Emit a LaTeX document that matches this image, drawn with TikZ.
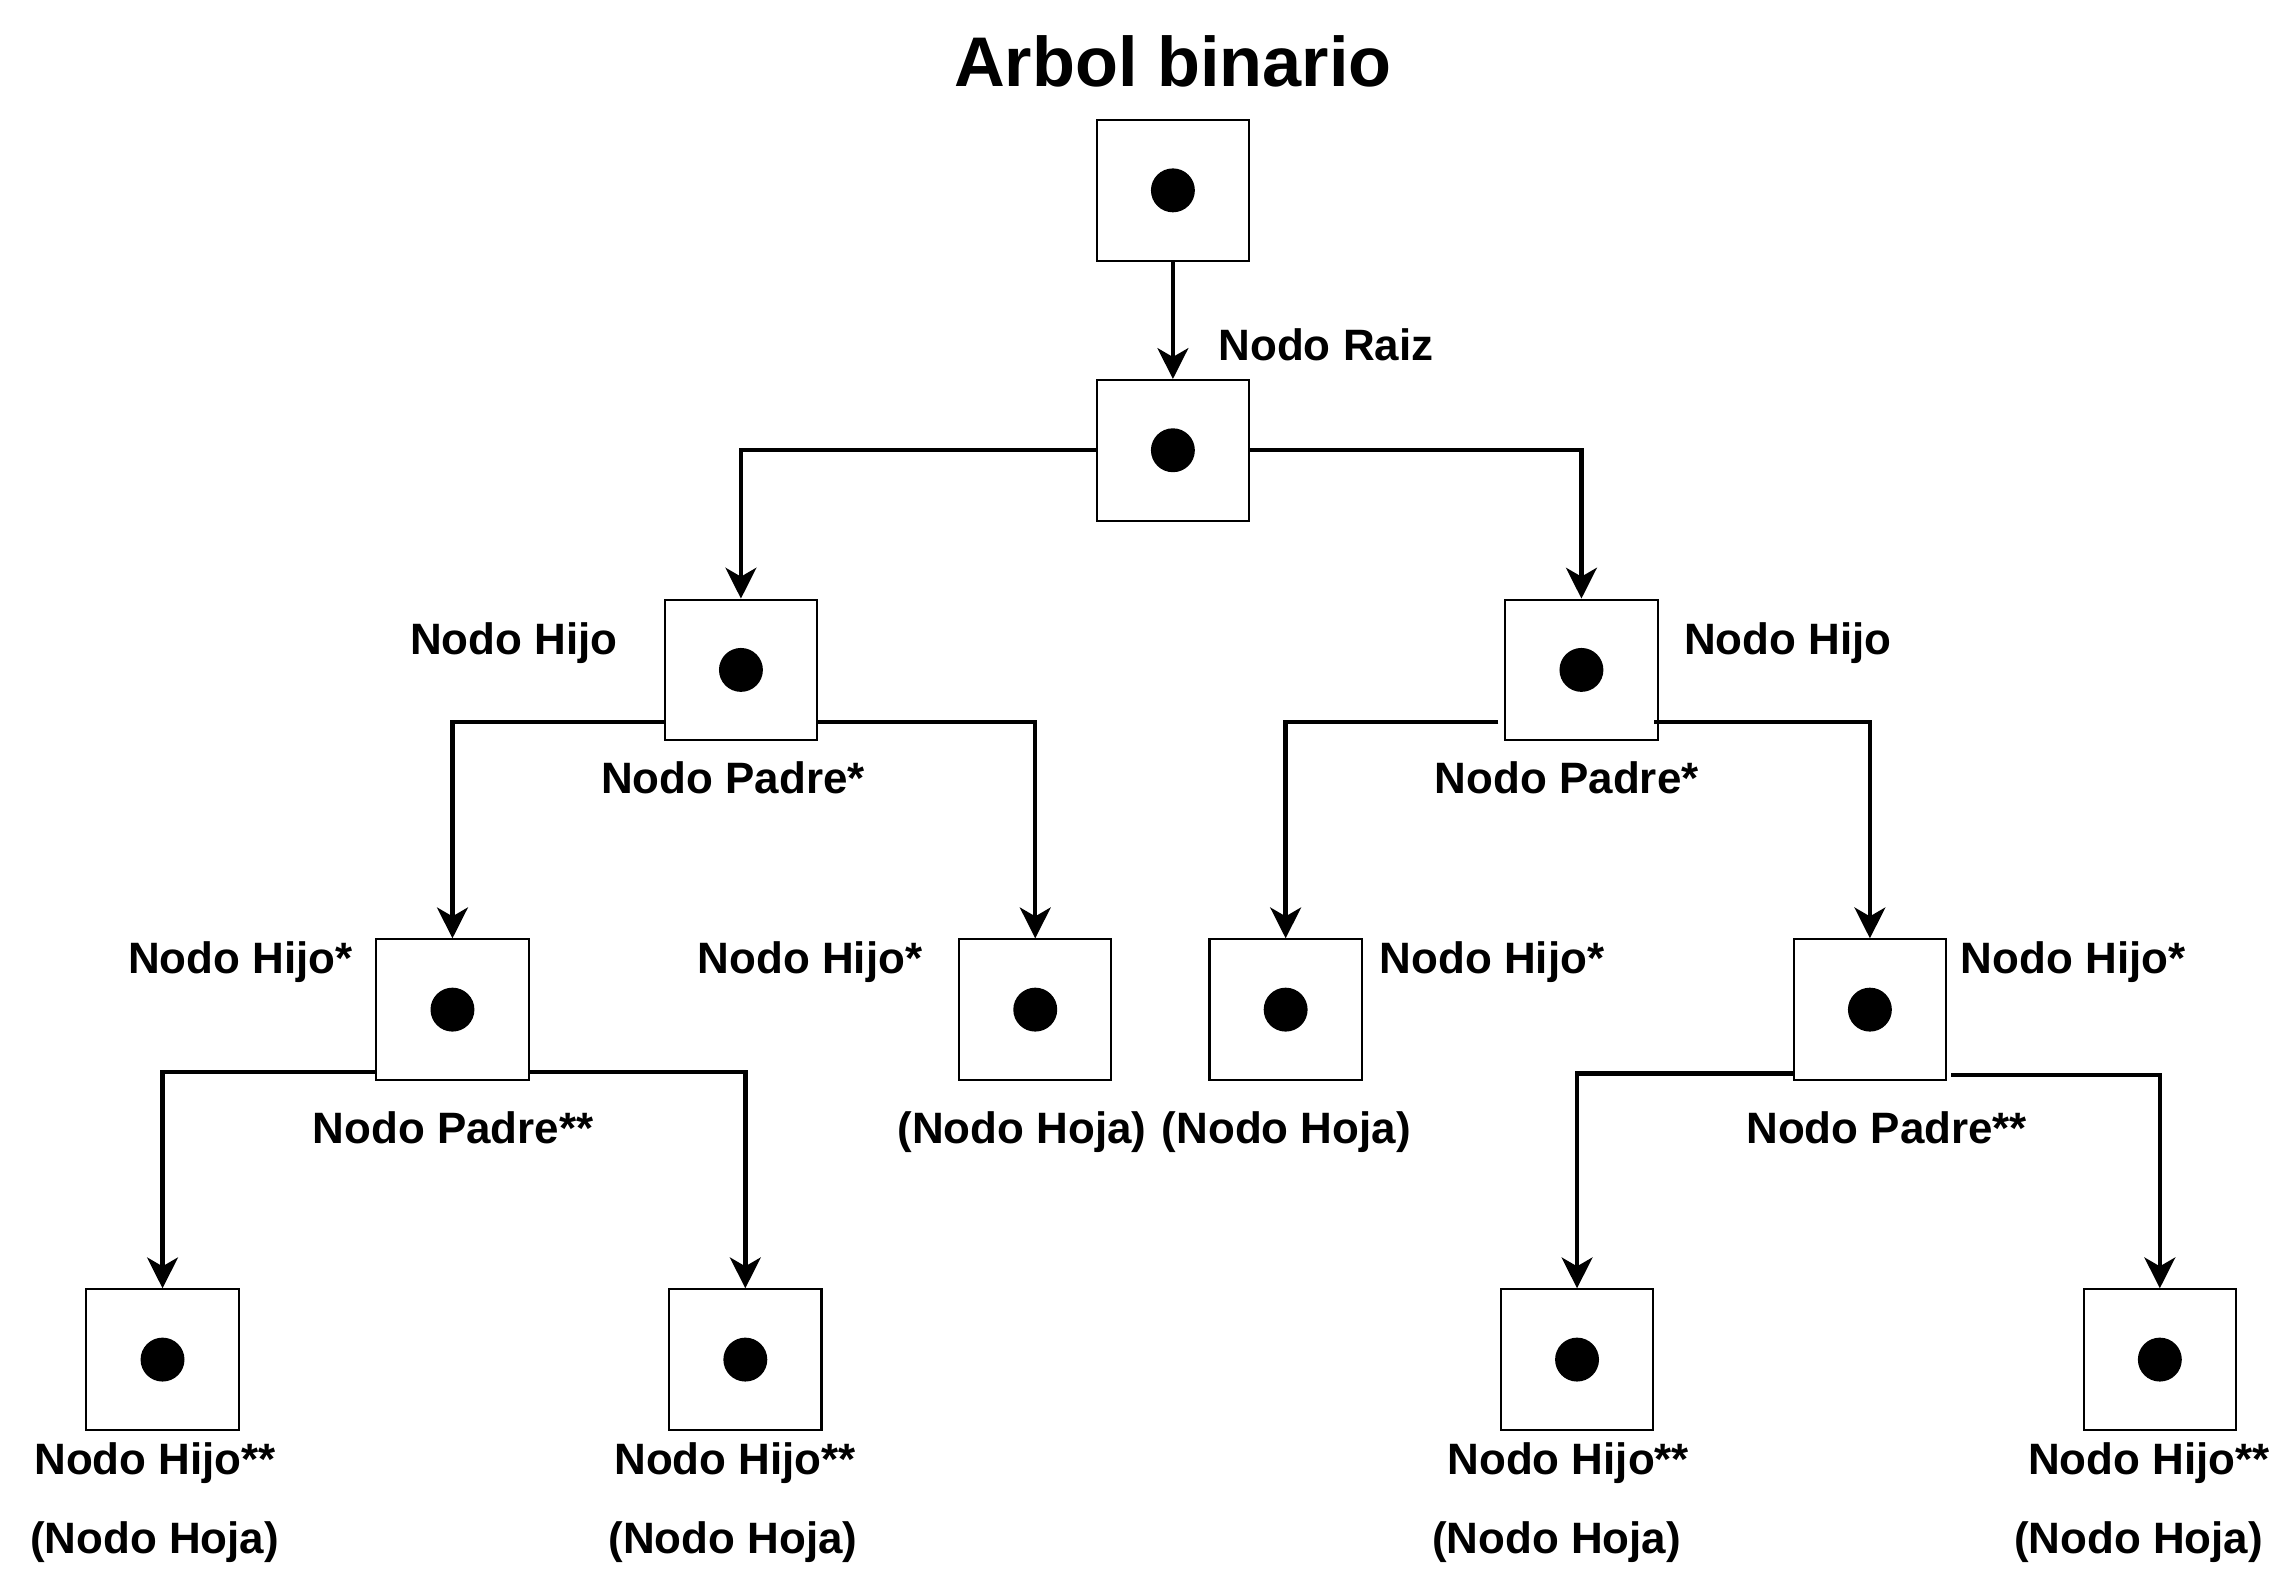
\documentclass[tikz,border=0pt]{standalone}
\usepackage{fontspec}
\setmainfont{Liberation Sans}
\usetikzlibrary{arrows.meta}

\begin{document}
\begin{tikzpicture}[
    x=1pt, y=-1pt,
    caja/.style={draw, line width=1.4pt, minimum width=104pt, minimum height=96pt, inner sep=0pt,
      path picture={\fill (path picture bounding box.center) circle (15pt);}},
    etiq/.style={font=\fontsize{30}{36}\selectfont\bfseries, inner sep=0pt},
    titulo/.style={font=\fontsize{48}{58}\selectfont\bfseries, inner sep=0pt},
    flecha/.style={-{Stealth[length=21pt,width=21pt,inset=6pt]}, line width=3pt},
  ]
    \useasboundingbox (0,0) rectangle (1568,1083);

    \node[titulo, anchor=base] (tit) at (801,59) {Arbol binario};

    % cajas
    \node[caja] (inicio) at (801,130) {};
    \node[caja] (raiz) at (801,307.5) {};
    \node[caja] (hijoI) at (506,457.5) {};
    \node[caja] (hijoD) at (1080,457.5) {};
    \node[caja] (hijoII) at (309,689.5) {};
    \node[caja] (hijoID) at (707,689.5) {};
    \node[caja] (hijoDI) at (878,689.5) {};
    \node[caja] (hijoDD) at (1277,689.5) {};
    \node[caja] (hojaA) at (111,928.5) {};
    \node[caja] (hojaB) at (509,928.5) {};
    \node[caja] (hojaC) at (1077,928.5) {};
    \node[caja] (hojaD) at (1475,928.5) {};

    % etiquetas
    \node[etiq, anchor=base west] (lraiz) at (832,246) {Nodo Raiz};
    \node[etiq, anchor=base east] (lhijoI) at (422,447) {Nodo Hijo};
    \node[etiq, anchor=base west] (lhijoD) at (1150,447) {Nodo Hijo};
    \node[etiq, anchor=base] (lpadreI) at (500.5,542) {Nodo Padre*};
    \node[etiq, anchor=base] (lpadreD) at (1070,542) {Nodo Padre*};
    \node[etiq, anchor=base east] (lhijoII) at (241,665) {Nodo Hijo*};
    \node[etiq, anchor=base east] (lhijoID) at (630,665) {Nodo Hijo*};
    \node[etiq, anchor=base west] (lhijoDI) at (942,665) {Nodo Hijo*};
    \node[etiq, anchor=base west] (lhijoDD) at (1339,665) {Nodo Hijo*};
    \node[etiq, anchor=base] (lpadreII) at (309.5,781) {Nodo Padre**};
    \node[etiq, anchor=base] (lhojaID) at (698,781) {(Nodo Hoja)};
    \node[etiq, anchor=base] (lhojaDI) at (878.5,781) {(Nodo Hoja)};
    \node[etiq, anchor=base] (lpadreDD) at (1288.5,781) {Nodo Padre**};
    \node[etiq, anchor=base] (lhijoA) at (106,1007) {Nodo Hijo**};
    \node[etiq, anchor=base] (lhijoB) at (502,1007) {Nodo Hijo**};
    \node[etiq, anchor=base] (lhijoC) at (1071,1007) {Nodo Hijo**};
    \node[etiq, anchor=base] (lhijoDx) at (1467.5,1007) {Nodo Hijo**};
    \node[etiq, anchor=base] (lhojaA) at (105.5,1061) {(Nodo Hoja)};
    \node[etiq, anchor=base] (lhojaB) at (500.5,1061) {(Nodo Hoja)};
    \node[etiq, anchor=base] (lhojaC) at (1063,1061) {(Nodo Hoja)};
    \node[etiq, anchor=base] (lhojaD) at (1460.5,1061) {(Nodo Hoja)};

    % conectores
    \draw[flecha] (inicio) -- (raiz);
    \draw[flecha] (raiz.west) -| (hijoI.north);
    \draw[flecha] (raiz.east) -| (hijoD.north);
    \draw[flecha] ([yshift=13pt]hijoI.south west) -| (hijoII.north);
    \draw[flecha] ([yshift=13pt]hijoI.south east) -| (hijoID.north);
    \draw[flecha] ([xshift=-4pt,yshift=13pt]hijoD.south west) -| (hijoDI.north);
    \draw[flecha] ([xshift=-3pt,yshift=13pt]hijoD.south east) -| (hijoDD.north);
    \draw[flecha] ([yshift=6pt]hijoII.south west) -| (hojaA.north);
    \draw[flecha] ([yshift=6pt]hijoII.south east) -| (hojaB.north);
    \draw[flecha] ([yshift=5pt]hijoDD.south west) -| (hojaC.north);
    \draw[flecha] ([xshift=3pt,yshift=4pt]hijoDD.south east) -| (hojaD.north);
  \end{tikzpicture}
\end{document}
